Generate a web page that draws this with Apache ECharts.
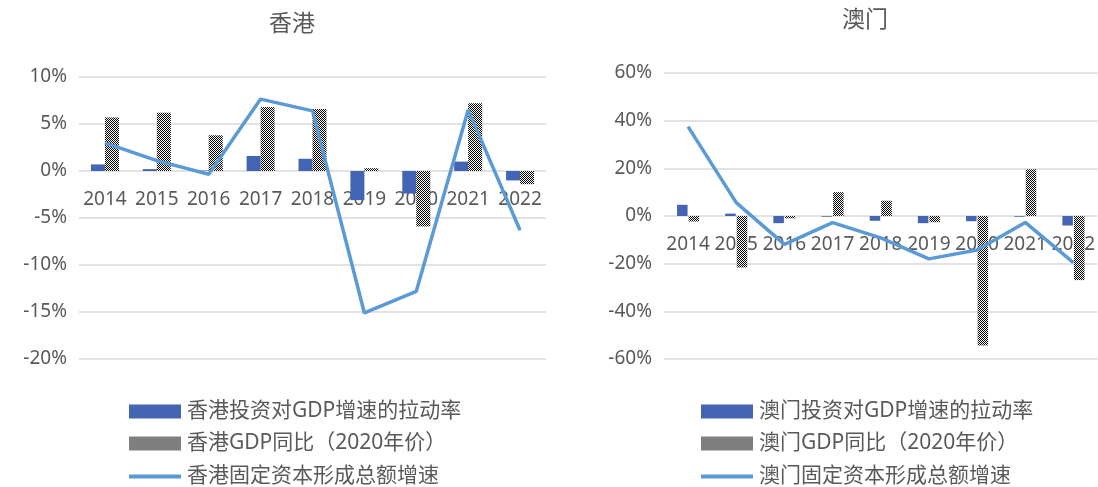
<!DOCTYPE html>
<html>
<head>
<meta charset="utf-8">
<script src="https://cdn.jsdelivr.net/npm/echarts@6/dist/echarts.min.js"></script>
<style>
  html, body { margin: 0; padding: 0; background: #fff; }
  #chart { width: 1098px; height: 487px; }
</style>
</head>
<body>
<div id="chart"></div>
<script>
// 年份
const years = ['2014', '2015', '2016', '2017', '2018', '2019', '2020', '2021', '2022']

// 香港 (%)
const hkInvestPull = [0.7, 0.2, 0.05, 1.6, 1.3, -3.1, -2.4, 1.0, -1.0]
const hkGdpYoy = [5.7, 6.2, 3.8, 6.8, 6.6, 0.3, -5.9, 7.2, -1.4]
const hkGfcfGrowth = [3.0, 1.1, -0.35, 7.65, 6.4, -15.1, -12.8, 6.5, -6.3]

// 澳门 (%)
const moInvestPull = [4.7, 1.0, -3.0, -0.3, -2.0, -3.0, -2.2, -0.3, -4.0]
const moGdpYoy = [-2.3, -21.6, -1.0, 10.0, 6.4, -2.6, -54.3, 19.6, -26.9]
const moGfcfGrowth = [37.5, 5.6, -11.9, -2.8, -9.2, -18.0, -14.3, -2.7, -19.6]

const hkTicks = { min: -20, max: 10, interval: 5 }
const moTicks = { min: -60, max: 60, interval: 20 }

// 黑白格子纹理
const cv = document.createElement('canvas')
cv.width = 2
cv.height = 2
const ctx = cv.getContext('2d')
ctx.fillStyle = '#fff'
ctx.fillRect(0, 0, 2, 2)
ctx.fillStyle = '#000'
ctx.fillRect(0, 0, 1, 1)
ctx.fillRect(1, 1, 1, 1)
const checker = { image: cv, repeat: 'repeat' }

const textColor = '#595959'
const font = '"Noto Sans", "Noto Sans CJK SC", sans-serif'
const blue = '#4464b4'
const lineBlue = '#5b9bd5'

// 类目轴标签贴着0线 (用offset往上挪)
function xAxisOf (idx, offset) {
  return {
    type: 'category',
    gridIndex: idx,
    data: years,
    position: 'bottom',
    offset: offset,
    axisLine: { show: false, onZero: false },
    axisTick: { show: false },
    axisLabel: { color: textColor, fontSize: 19, fontFamily: font, margin: 19, interval: 0 }
  }
}
function yAxisOf (idx, t) {
  return {
    type: 'value',
    gridIndex: idx,
    min: t.min,
    max: t.max,
    interval: t.interval,
    axisLine: { show: false },
    axisTick: { show: false },
    axisLabel: { color: textColor, fontSize: 19, fontFamily: font, margin: 12, formatter: '{value}%' },
    splitLine: { lineStyle: { color: '#d9d9d9', width: 1.5 } }
  }
}
function legendOf (name, left, top, h) {
  return {
    data: [{ name: name, icon: 'rect' }],
    left: left,
    top: top,
    itemWidth: 52,
    itemHeight: h,
    textStyle: { color: textColor, fontSize: 21, fontFamily: font, padding: [0, 0, 0, 1] }
  }
}

const chart = echarts.init(document.getElementById('chart'))
const option = {
  animation: false,
  textStyle: { fontFamily: font },
  title: [
    { text: '香港', left: 287, top: 8, textAlign: 'center', textStyle: { color: textColor, fontSize: 23, fontWeight: 'normal', fontFamily: font } },
    { text: '澳门', left: 860, top: 4, textAlign: 'center', textStyle: { color: textColor, fontSize: 23, fontWeight: 'normal', fontFamily: font } }
  ],
  legend: [
    legendOf('香港投资对GDP增速的拉动率', 124, 396, 14),
    legendOf('香港GDP同比（2020年价）', 124, 428, 14),
    legendOf('香港固定资本形成总额增速', 124, 461, 4),
    legendOf('澳门投资对GDP增速的拉动率', 696, 396, 14),
    legendOf('澳门GDP同比（2020年价）', 696, 428, 14),
    legendOf('澳门固定资本形成总额增速', 696, 461, 4)
  ],
  grid: [
    { left: 79, top: 77, width: 467, height: 282 },
    { left: 664, top: 73, width: 436, height: 286 }
  ],
  xAxis: [xAxisOf(0, -188), xAxisOf(1, -143)],
  yAxis: [yAxisOf(0, hkTicks), yAxisOf(1, moTicks)],
  series: [
    {
      name: '香港投资对GDP增速的拉动率', type: 'bar', xAxisIndex: 0, yAxisIndex: 0,
      data: hkInvestPull, itemStyle: { color: blue }, barWidth: 14, barGap: '0%'
    },
    {
      name: '香港GDP同比（2020年价）', type: 'bar', xAxisIndex: 0, yAxisIndex: 0,
      data: hkGdpYoy, itemStyle: { color: checker }, barWidth: 14, barGap: '0%'
    },
    {
      name: '香港固定资本形成总额增速', type: 'line', xAxisIndex: 0, yAxisIndex: 0,
      data: hkGfcfGrowth, symbol: 'none', lineStyle: { color: lineBlue, width: 3.5 },
      itemStyle: { color: lineBlue }, z: 5
    },
    {
      name: '澳门投资对GDP增速的拉动率', type: 'bar', xAxisIndex: 1, yAxisIndex: 1,
      data: moInvestPull, itemStyle: { color: blue }, barWidth: 10.5, barGap: '10%'
    },
    {
      name: '澳门GDP同比（2020年价）', type: 'bar', xAxisIndex: 1, yAxisIndex: 1,
      data: moGdpYoy, itemStyle: { color: checker }, barWidth: 10.5, barGap: '10%'
    },
    {
      name: '澳门固定资本形成总额增速', type: 'line', xAxisIndex: 1, yAxisIndex: 1,
      data: moGfcfGrowth, symbol: 'none', lineStyle: { color: lineBlue, width: 3.5 },
      itemStyle: { color: lineBlue }, z: 5
    }
  ]
}
chart.setOption(option)
</script>
</body>
</html>
